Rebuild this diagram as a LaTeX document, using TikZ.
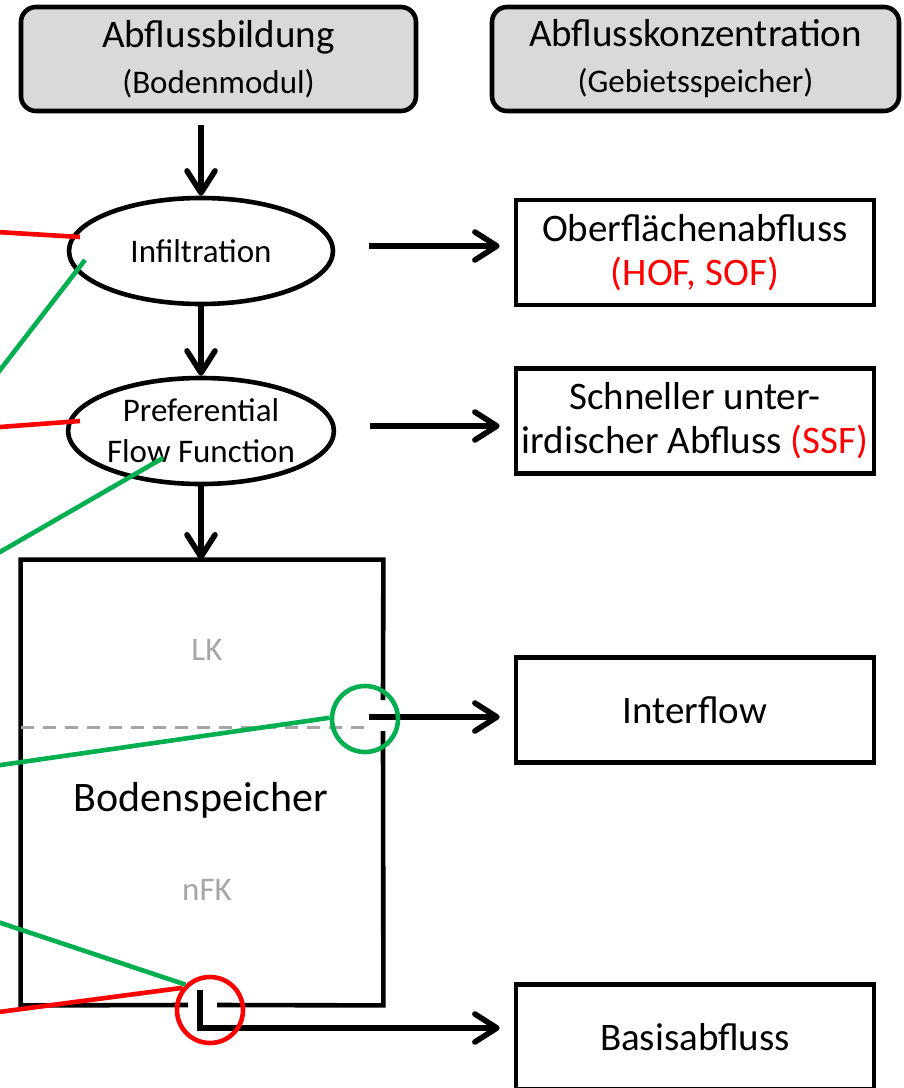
\documentclass[tikz,border=0pt]{standalone}
\usepackage{fontspec}
\setmainfont{Carlito}
\usetikzlibrary{arrows.meta,shapes.geometric}

\definecolor{boxgray}{HTML}{D9D9D9}
\definecolor{txtgray}{HTML}{A6A6A6}
\definecolor{pfgreen}{HTML}{00B050}
\definecolor{pfred}{HTML}{FF0000}

\newcommand{\bigtxt}{\fontsize{19.5}{22}\selectfont}
\newcommand{\smtxt}{\fontsize{16.5}{20.5}\selectfont}

\tikzset{
  head/.style={draw, fill=boxgray, rounded corners=7.5pt, line width=2.3pt, minimum height=52pt, inner sep=0pt, align=center, font=\bigtxt},
  blob/.style={draw, ellipse, line width=2.3pt, minimum width=132pt, minimum height=53pt, inner sep=0pt, align=center, font=\smtxt},
  outbox/.style={draw, rectangle, line width=2.3pt, minimum width=179pt, minimum height=52.5pt, inner sep=0pt, align=center, font=\bigtxt},
  tank/.style={rectangle, minimum width=181pt, minimum height=222.5pt, inner sep=0pt},
  wall/.style={line width=2.3pt},
  flow/.style={->, line width=2.8pt},
  ring/.style={draw=#1, circle, line width=2.3pt, minimum size=33pt, inner sep=0pt},
  redline/.style={pfred, line width=2.3pt},
  greenline/.style={pfgreen, line width=2.3pt},
}

\begin{document}
\begin{tikzpicture}[x=0.5pt,y=-0.5pt,line join=miter,>={Straight Barb[length=11pt,width=14pt,round]}]
\clip (0,0) rectangle (904,1088);

\node[head, minimum width=197.5pt] (bildung) at (218.5,59) {Abflussbildung\\[1pt]{\smtxt (Bodenmodul)}};
\node[head, minimum width=203.5pt] (konz) at (695.5,59) {Abflusskonzentration\\[1pt]{\smtxt (Gebietsspeicher)}};

\node[blob] (infil) at (201,251) {Infiltration};
\node[blob] (prefflow) at (201,431) {Preferential\\Flow Function};
\node[tank] (speicher) at (202,782.5) {};

\node[outbox] (ober) at (695,252.5) {Oberflächenabfluss\\\textcolor{pfred}{(HOF, SOF)}};
\node[outbox] (schnell) at (695,421) {Schneller unter-\\irdischer Abfluss \textcolor{pfred}{(SSF)}};
\node[outbox] (inter) at (695,710) {Interflow};
\node[outbox] (basis) at (695,1037) {Basisabfluss};

\draw[wall] (383,700) -- (speicher.north east) -- (speicher.north west) -- (speicher.south west) -- (188,1005);
\draw[wall] (217,1005) -- (speicher.south east) -- (383,731);
\draw[txtgray, line width=1.5pt, dash pattern=on 6.5pt off 4.5pt] (21,727) -- (368,727);

\node[font=\smtxt, text=txtgray] (lk) at (207,650) {LK};
\node[font=\fontsize{21}{25}\selectfont] (bsp) at (201,800) {Bodenspeicher};
\node[font=\smtxt, text=txtgray] (nfk) at (207,890) {nFK};

\draw[flow, shorten <=6pt] (infil.north |- bildung.south) -- (infil.north);
\draw[flow] (infil) -- (prefflow);
\draw[flow] (prefflow.south) -- (prefflow.south |- speicher.north);

\draw[flow, shorten <=17pt, shorten >=7pt] ([yshift=2.5pt]infil.east) -- ([yshift=2.5pt]infil.east -| ober.west);
\draw[flow, shorten <=17pt, shorten >=7pt] ([yshift=2.5pt]prefflow.east) -- ([yshift=2.5pt]prefflow.east -| schnell.west);

\coordinate (ifout) at (369,717);
\coordinate (bfout) at (200,990);
\draw[flow, shorten >=7pt] (ifout) -- (ifout -| inter.west);
\draw[flow, shorten >=7pt] (bfout) |- ([yshift=4.5pt]basis.west);

\node[ring=pfgreen] (ifring) at (365,719) {};
\node[ring=pfred] (bfring) at (210,1010) {};

\coordinate (r1) at (-20,231);
\coordinate (g1) at (-20,396);
\coordinate (r2) at (-20,428.5);
\coordinate (g2) at (-20,563.5);
\coordinate (g3) at (-20,768);
\coordinate (g4) at (-20,916);
\coordinate (r3) at (-20,1014.5);
\coordinate (infR) at (80,237);
\coordinate (infG) at (85,260);
\coordinate (pffR) at (80,421);
\coordinate (pffG) at (163,458);

\draw[redline] (r1) -- (infR);
\draw[greenline] (g1) -- (infG);
\draw[redline] (r2) -- (pffR);
\draw[greenline] (g2) -- (pffG);
\draw[greenline] (g3) -- (ifring.178);
\draw[greenline] (g4) -- (bfring.134);
\draw[redline] (r3) -- (bfring.141);
\end{tikzpicture}
\end{document}
